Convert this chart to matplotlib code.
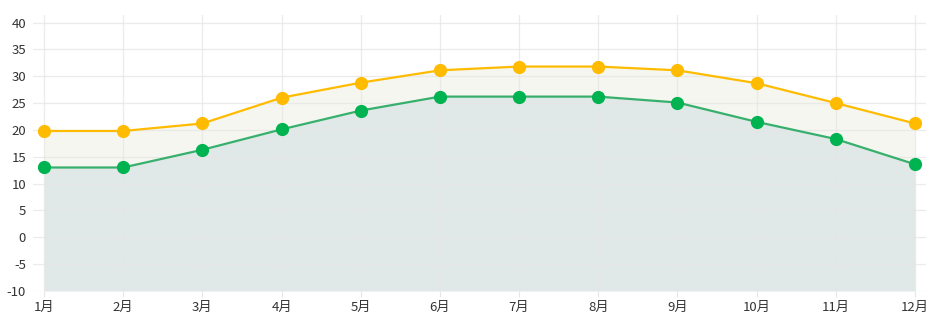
import numpy as np
import matplotlib.pyplot as plt

plt.rcParams['font.family'] = ['Noto Sans CJK JP', 'DejaVu Sans']
plt.rcParams['axes.unicode_minus'] = False

months = ['1月', '2月', '3月', '4月', '5月', '6月', '7月', '8月', '9月', '10月', '11月', '12月']
high = [19.8, 19.8, 21.2, 26.0, 28.8, 31.1, 31.8, 31.8, 31.1, 28.7, 25.0, 21.2]
low = [13.0, 13.0, 16.3, 20.1, 23.6, 26.2, 26.2, 26.2, 25.1, 21.5, 18.3, 13.6]
yticks = list(range(-10, 45, 5))

GRID = '#e6e6e6'
YELLOW = '#ffbb00'
GREEN_LINE = '#36b06c'
GREEN_DOT = '#00b351'

fig = plt.figure(figsize=(9.38, 3.23), dpi=100)
ax = fig.add_axes([33 / 938, (323 - 291) / 323, (926 - 33) / 938, (291 - 15) / 323])

x = np.arange(len(months))
# bands sit under the grid so the grid shows through faintly
ax.fill_between(x, low, -10, color='#e1e9e8', lw=0, zorder=0.2)
ax.fill_between(x, high, low, color='#f5f6f0', lw=0, zorder=0.2)

ax.plot(x, high, color=YELLOW, lw=1.6, marker='o', ms=8.5,
        mfc=YELLOW, mec=YELLOW, zorder=3)
ax.plot(x, low, color=GREEN_LINE, lw=1.6, marker='o', ms=8.5,
        mfc=GREEN_DOT, mec=GREEN_DOT, zorder=3)

ax.set_xlim(-0.14, 11.14)
ax.set_ylim(-10, 41.4)
ax.set_xticks(x)
ax.set_xticklabels(months)
ax.set_yticks(yticks)
ax.set_axisbelow(True)
ax.grid(True, color=GRID, lw=0.9, alpha=0.8)
for s in ax.spines.values():
    s.set_visible(False)
ax.tick_params(axis='y', length=0, pad=5, labelsize=9.5, labelcolor='#333333')
ax.tick_params(axis='x', length=4, color=GRID, pad=3, labelsize=9.5, labelcolor='#333333')

fig.savefig('out.png', dpi=100)
